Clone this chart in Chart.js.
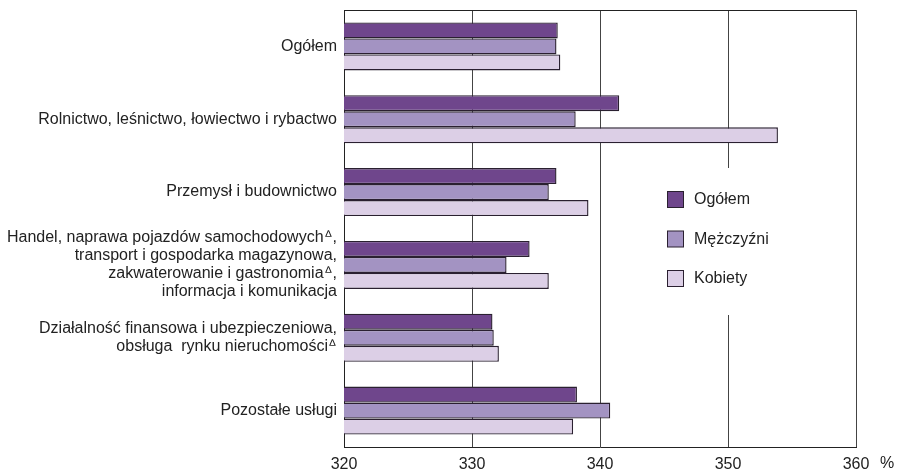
<!DOCTYPE html>
<html lang="pl">

<head>
  <meta charset="UTF-8">
  <script src="https://cdn.jsdelivr.net/npm/chart.js"></script>
  <title>Wykres</title>
  <style>
    html, body { margin: 0; padding: 0; background: #fff; }
    .card { position: relative; width: 899px; height: 473px; }
  </style>
</head>

<body>
  <div class="card">
    <canvas id="userChart"></canvas>
  </div>

  <script>
    // dane
    var kategorie = [
      ['Ogółem'],
      ['Rolnictwo, leśnictwo, łowiectwo i rybactwo'],
      ['Przemysł i budownictwo'],
      ['Handel, naprawa pojazdów samochodowych\u141E,', 'transport i gospodarka magazynowa,', 'zakwaterowanie i gastronomia\u141E,', 'informacja i komunikacja'],
      ['Działalność finansowa i ubezpieczeniowa,', 'obsługa  rynku nieruchomości\u141E'],
      ['Pozostałe usługi']
    ];
    var serie = ['Ogółem', 'Mężczyźni', 'Kobiety'];
    var ogolem = [336.7, 341.5, 336.6, 334.5, 331.6, 338.2];
    var mezczyzni = [336.6, 338.1, 336.0, 332.7, 331.7, 340.8];
    var kobiety = [336.9, 353.9, 339.1, 336.0, 332.1, 337.9];
    var osX = [320, 330, 340, 350, 360];

    var kolory = ['#6f468c', '#a393c2', '#dccfe6'];
    var obramowanie = '#2a2030';
    var czcionka = '"Liberation Sans", Arial, sans-serif';

    // legenda w srodku wykresu + ramka + znak %
    var dodatki = {
      id: 'dodatki',
      afterDatasetsDraw: function (chart) {
        var ctx = chart.ctx;
        var a = chart.chartArea;
        ctx.save();
        ctx.strokeStyle = '#222';
        ctx.lineWidth = 1;
        ctx.beginPath();
        ctx.moveTo(a.left, a.top + 0.5);
        ctx.lineTo(a.right, a.top + 0.5);
        ctx.stroke();

        ctx.fillStyle = '#fff';
        ctx.fillRect(655, 168, 140, 147);

        ctx.font = '16px ' + czcionka;
        ctx.textBaseline = 'middle';
        for (var i = 0; i < serie.length; i++) {
          var y = 191 + i * 39.5;
          ctx.fillStyle = kolory[i];
          ctx.fillRect(667.5, y + 0.5, 16, 16);
          ctx.strokeStyle = obramowanie;
          ctx.strokeRect(667.5, y + 0.5, 16, 16);
          ctx.fillStyle = '#222';
          ctx.fillText(serie[i], 694, y + 9);
        }

        ctx.fillText('%', a.right + 24, 464);
        ctx.restore();
      }
    };

    var ctx = document.getElementById('userChart').getContext('2d');
    var userChart = new Chart(ctx, {
      type: 'bar',
      data: {
        labels: kategorie,
        datasets: [
          { label: serie[0], data: ogolem, backgroundColor: kolory[0] },
          { label: serie[1], data: mezczyzni, backgroundColor: kolory[1] },
          { label: serie[2], data: kobiety, backgroundColor: kolory[2] }
        ]
      },
      options: {
        indexAxis: 'y',
        responsive: true,
        maintainAspectRatio: false,
        animation: false,
        layout: { padding: { top: 10, right: 43, bottom: 0, left: 0 } },
        datasets: {
          bar: {
            categoryPercentage: 0.66,
            barPercentage: 1.0,
            borderColor: obramowanie,
            borderWidth: 1.4,
            borderSkipped: false
          }
        },
        plugins: {
          legend: { display: false },
          tooltip: { enabled: false }
        },
        scales: {
          x: {
            min: osX[0],
            max: osX[osX.length - 1],
            afterBuildTicks: function (scale) {
              scale.ticks = osX.map(function (v) { return { value: v }; });
            },
            afterFit: function (scale) { scale.height = 26; },
            grid: { color: '#444', lineWidth: 1, drawTicks: false },
            border: { color: '#222', width: 1 },
            ticks: {
              padding: 8,
              color: '#222',
              font: { family: czcionka, size: 16 }
            }
          },
          y: {
            afterFit: function (scale) {
              scale.width = 344;
              scale.paddingTop = 0;
              scale.paddingBottom = 0;
            },
            grid: { display: false, drawTicks: false },
            border: { color: '#222', width: 1 },
            ticks: {
              padding: 7,
              color: '#222',
              autoSkip: false,
              font: { family: czcionka, size: 16, lineHeight: 1.13 }
            }
          }
        }
      },
      plugins: [dodatki]
    });
  </script>

</body>

</html>
